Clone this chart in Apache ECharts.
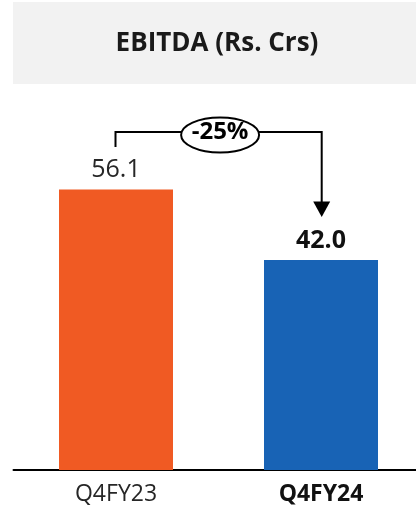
<!DOCTYPE html>
<html>
<head>
<meta charset="utf-8">
<script src="https://cdn.jsdelivr.net/npm/echarts@6/dist/echarts.min.js"></script>
<style>
html,body{margin:0;padding:0;background:#fff;}
#c{width:416px;height:510px;}
</style>
</head>
<body>
<div id="c"></div>
<script>
const categories = ['Q4FY23', 'Q4FY24'];
const values = [56.1, 42.0];
const barColors = ['#F05A23', '#1863B5'];
const boldFlags = [false, true];
const titleText = 'EBITDA (Rs. Crs)';
const changeText = '-25%';

const FONT = '"Open Sans", "DejaVu Sans", sans-serif';
const chart = echarts.init(document.getElementById('c'), null, {renderer: 'canvas'});

const option = {
  animation: false,
  backgroundColor: '#ffffff',
  grid: {left: 13.5, width: 410, top: 70, bottom: 40, containLabel: false, outerBoundsMode: 'none'},
  xAxis: {
    type: 'category',
    data: categories.map((c, i) => ({
      value: c,
      textStyle: {fontWeight: boldFlags[i] ? 'bold' : 'normal', color: boldFlags[i] ? '#111' : '#262626'}
    })),
    axisLine: {show: true, lineStyle: {color: '#000', width: 2}},
    axisTick: {show: false},
    axisLabel: {fontFamily: FONT, fontSize: 23, lineHeight: 24, margin: 12, color: '#262626'}
  },
  yAxis: {
    type: 'value', min: 0, max: 80,
    show: false, splitLine: {show: false}
  },
  series: [{
    type: 'bar',
    barWidth: 114,
    data: values.map((v, i) => ({
      value: v,
      itemStyle: {color: barColors[i]},
      label: {
        show: true, position: 'top', distance: 7,
        fontFamily: FONT, fontSize: 25, lineHeight: 25,
        fontWeight: boldFlags[i] ? 'bold' : 'normal',
        color: boldFlags[i] ? '#111' : '#262626',
        formatter: (p) => p.value.toFixed(1)
      }
    }))
  }]
};
chart.setOption(option);

const p1 = chart.convertToPixel({seriesIndex: 0}, [0, values[0]]);
const p2 = chart.convertToPixel({seriesIndex: 0}, [1, values[1]]);
const x1 = p1[0] - 0.5, x2 = p2[0] + 0.7;
const lineY = 132;
const ellX = (x1 + x2) / 2 + 1.5;

chart.setOption({
  graphic: [
    {type: 'rect', shape: {x: 13, y: 2, width: 403, height: 82}, style: {fill: '#F2F2F2'}, z: 0},
    {type: 'text', x: 217, y: 44, style: {text: titleText, font: 'bold 26px ' + FONT, fill: '#1a1a1a', textAlign: 'center', textVerticalAlign: 'middle'}, z: 2},
    {type: 'polyline', shape: {points: [[x1, lineY + 15], [x1, lineY], [x2, lineY], [x2, 202]]}, style: {stroke: '#000', lineWidth: 2, fill: null}, z: 3},
    {type: 'polygon', shape: {points: [[x2 - 8.5, 201.5], [x2 + 8.5, 201.5], [x2, 217]]}, style: {fill: '#000'}, z: 3},
    {type: 'ellipse', shape: {cx: ellX, cy: 135, rx: 39, ry: 17.5}, style: {fill: '#fff', stroke: '#000', lineWidth: 2}, z: 4},
    {type: 'text', x: ellX, y: 132, style: {text: changeText, font: 'bold 24px ' + FONT, fill: '#000', textAlign: 'center', textVerticalAlign: 'middle'}, z: 5}
  ]
});
</script>
</body>
</html>
